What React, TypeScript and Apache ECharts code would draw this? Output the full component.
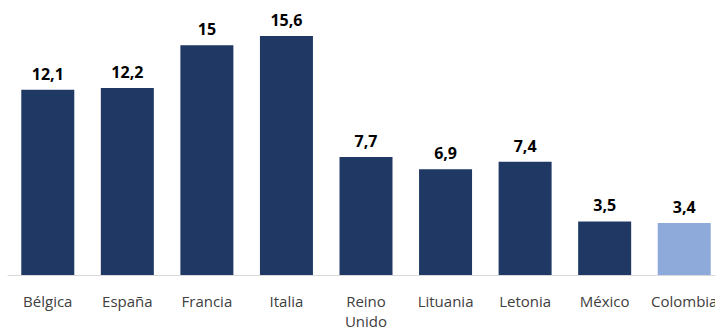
import React, { useEffect, useRef } from "react";
import * as echarts from "echarts";

const categories = ["Bélgica", "España", "Francia", "Italia", "Reino\nUnido", "Lituania", "Letonia", "México", "Colombia"];
const values = [12.1, 12.2, 15, 15.6, 7.7, 6.9, 7.4, 3.5, 3.4];
const highlight = "Colombia";

export default function App() {
  const ref = useRef<HTMLDivElement>(null);
  useEffect(() => {
    const chart = echarts.init(ref.current!, null, { renderer: "svg" });
    const font = "'Open Sans', 'Noto Sans', sans-serif";
    chart.setOption({
      animation: false,
      grid: { left: 8, right: -9, top: 10, bottom: 56, outerBoundsMode: "none", containLabel: false },
      xAxis: {
        type: "category",
        data: categories,
        axisLine: { lineStyle: { color: "#d9d9d9", width: 1 } },
        axisTick: { show: false },
        axisLabel: {
          interval: 0,
          color: "#404040",
          fontSize: 15,
          fontFamily: font,
          margin: 16,
          lineHeight: 20,
        },
      },
      yAxis: {
        type: "value",
        min: 0,
        max: 17.3,
        show: false,
        splitLine: { show: false },
      },
      series: [
        {
          type: "bar",
          barWidth: 53,
          data: values.map((v, i) => ({
            value: v,
            itemStyle: { color: categories[i] === highlight ? "#8EAADB" : "#1F3864" },
          })),
          label: {
            show: true,
            position: "top",
            distance: 8,
            color: "#000",
            fontSize: 16,
            fontWeight: "bold",
            fontFamily: font,
            formatter: (p: any) => String(p.value).replace(".", ","),
          },
        },
      ],
    });
    return () => chart.dispose();
  }, []);
  return <div ref={ref} style={{ width: 715, height: 331, position: "absolute", left: 0, top: 0 }} />;
}
